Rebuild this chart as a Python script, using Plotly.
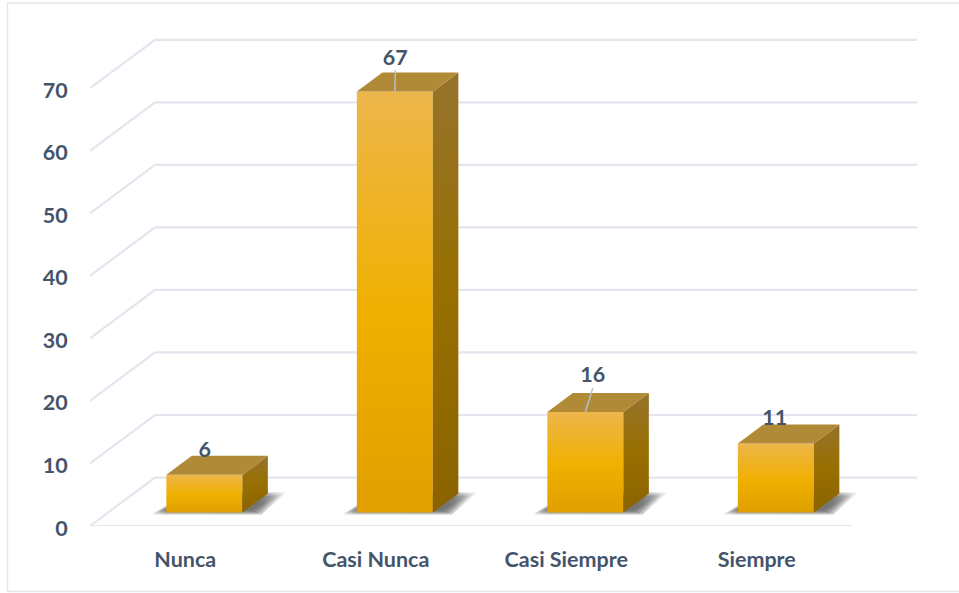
import plotly.graph_objects as go

categories = ["Nunca", "Casi Nunca", "Casi Siempre", "Siempre"]
values = [6, 67, 16, 11]
y_ticks = [0, 10, 20, 30, 40, 50, 60, 70]

W, H = 959, 593
L, R, T, B = 90, 925, 15, 526.5
PX_X = 190.5        # pixels per category
PX_Y = 6.26         # pixels per value unit
FONT = "Lato"
TEXT = "#44546A"
GRID = "#E3E6EE"

# projection offsets in axis units
FLOOR_DX, FLOOR_DY = 65 / PX_X, 48.5 / PX_Y
BAR_W = 76 / PX_X
BAR_DX, BAR_DY = 25.5 / PX_X, 19 / PX_Y
BAR_SHIFT_X, BAR_BASE = 19.1 / PX_X, 13.5 / PX_Y
BAR_SCALE = 1.005
# label offsets from the front top-centre of each bar (pixels)
label_dx = [0.5, 0.5, 7.5, -1]
label_dy = [23.5, 32, 35, 24]
leader = [False, True, True, False]

FRONT = [[0, "#DFA000"], [0.47, "#F0B000"], [1, "#EDB64B"]]
SIDE = [[0, "#8A6300"], [0.5, "#986F00"], [1, "#96732C"]]
TOP = "#B08A36"

fig = go.Figure()


def line(xs, ys, color=GRID, width=2.2):
    fig.add_trace(go.Scatter(x=xs, y=ys, mode="lines", hoverinfo="skip", showlegend=False,
                             line=dict(color=color, width=width)))


def poly(xs, ys, grad=None, color=None):
    kw = dict(fillgradient=grad) if grad else dict(fillcolor=color)
    fig.add_trace(go.Scatter(x=xs + xs[:1], y=ys + ys[:1], mode="lines", fill="toself",
                             line=dict(width=0), hoverinfo="skip", showlegend=False, **kw))


# grid: side-wall and back-wall lines
left, right = -0.5, len(categories) - 0.5
for v in y_ticks:
    line([left, left + FLOOR_DX, right + FLOOR_DX], [v, v + FLOOR_DY, v + FLOOR_DY])
line([left, right], [0, 0])

for i, v in enumerate(values):
    x0 = i + BAR_SHIFT_X - BAR_W / 2
    x1 = x0 + BAR_W
    y0 = BAR_BASE
    y1 = y0 + v * BAR_SCALE
    # floor shadow, layered for a soft edge
    for k in range(4):
        sx0, sx1 = x0 - (15 - 3 * k) / PX_X, x1 + (19 - 3 * k) / PX_X + BAR_DX
        yb, yt = y0 - (0.3 - 0.2 * k), y0 + BAR_DY + (0.2 - 0.2 * k)
        poly([sx0, sx1 - BAR_DX, sx1, sx0 + BAR_DX + 12 / PX_X], [yb, yb, yt, yt],
             grad=dict(type="horizontal", start=sx0, stop=sx1,
                       colorscale=[[0, "rgba(80,80,80,0.08)"], [0.1, "rgba(80,80,80,0.30)"],
                                   [0.82, "rgba(80,80,80,0.32)"], [1, "rgba(80,80,80,0.04)"]]))
    # front
    poly([x0, x1, x1, x0], [y0, y0, y1, y1],
         grad=dict(type="vertical", start=y0, stop=y1, colorscale=FRONT))
    # side
    poly([x1, x1 + BAR_DX, x1 + BAR_DX, x1], [y0, y0 + BAR_DY, y1 + BAR_DY, y1],
         grad=dict(type="vertical", start=y0, stop=y1 + BAR_DY, colorscale=SIDE))
    # top
    poly([x0, x1, x1 + BAR_DX, x0 + BAR_DX], [y1, y1, y1 + BAR_DY, y1 + BAR_DY], color=TOP)

    cx = i + BAR_SHIFT_X
    lx = cx + label_dx[i] / PX_X
    ly = y1 + label_dy[i] / PX_Y
    if leader[i]:
        line([cx, lx], [y1, ly - 11 / PX_Y], color="#B4C0CE", width=1.5)
    fig.add_trace(go.Scatter(x=[lx], y=[ly], mode="text", text=[str(v)], textposition="middle center",
                             textfont=dict(family=FONT, size=21.5, color=TEXT, weight=700),
                             hoverinfo="skip", showlegend=False))

fx = lambda px: (px - L) / (R - L)
fy = lambda py: (B - py) / (B - T)
shapes = [
    dict(type="line", xref="paper", yref="paper", x0=fx(7.5), x1=fx(7.5), y0=fy(3), y1=fy(592),
         line=dict(color=GRID, width=1.5), layer="below"),
    dict(type="line", xref="paper", yref="paper", x0=fx(7.5), x1=fx(960), y0=fy(3), y1=fy(3),
         line=dict(color=GRID, width=1.5), layer="below"),
    dict(type="line", xref="paper", yref="paper", x0=fx(7.5), x1=fx(960), y0=fy(592), y1=fy(592),
         line=dict(color=GRID, width=1.5), layer="below"),
]

fig.update_layout(
    width=W, height=H, autosize=False,
    margin=dict(l=L, r=W - R, t=T, b=H - B, pad=0),
    plot_bgcolor="white", paper_bgcolor="white",
    showlegend=False, shapes=shapes,
    xaxis=dict(range=[left, left + (R - L) / PX_X], tickvals=list(range(len(categories))),
               ticktext=categories, showgrid=False, zeroline=False, showline=False,
               ticks="outside", ticklen=14, tickcolor="rgba(0,0,0,0)", fixedrange=True,
               tickfont=dict(family=FONT, size=21.5, color=TEXT, weight=700)),
    yaxis=dict(range=[0, (B - T) / PX_Y], tickvals=y_ticks, showgrid=False, zeroline=False,
               showline=False, ticks="outside", ticklen=17, tickcolor="rgba(0,0,0,0)", fixedrange=True,
               ticklabelshift=2,
               tickfont=dict(family=FONT, size=21.5, color=TEXT, weight=700)),
)

fig.write_html("out.html", config=dict(displayModeBar=False),
               post_script="document.body.style.margin='0';document.body.style.overflow='hidden';")
